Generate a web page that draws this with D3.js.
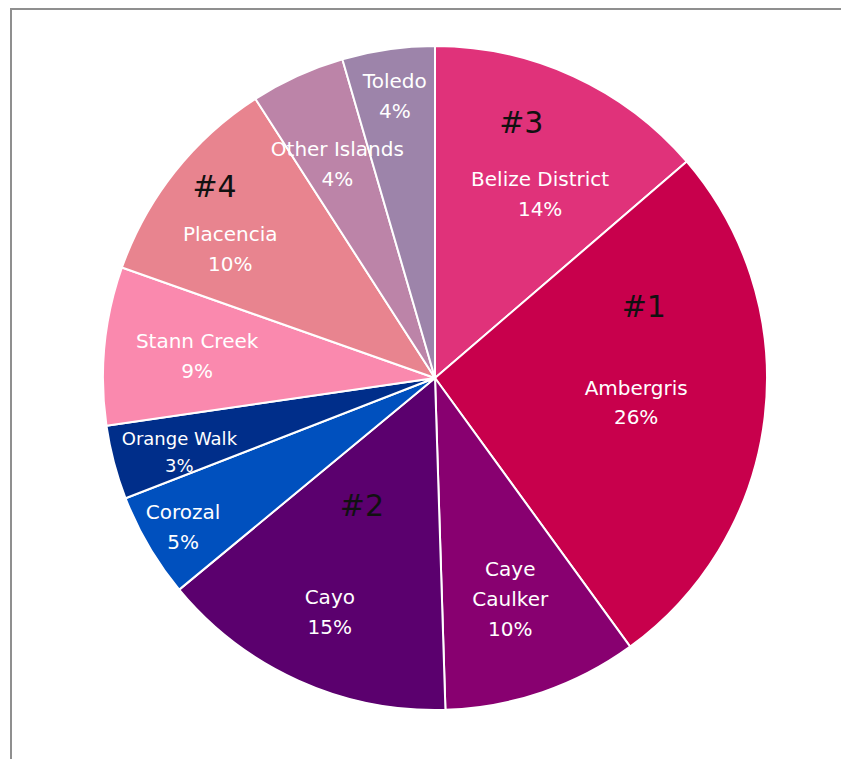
<!DOCTYPE html>
<html>
<head>
<meta charset="utf-8">
<script src="https://cdn.jsdelivr.net/npm/d3@7"></script>
<style>
  html, body { margin: 0; padding: 0; background: #fff; }
  svg { display: block; }
</style>
</head>
<body>
<div id="chart"></div>
<script>
// Data (slice sizes, labels as printed)
const districts = ["Belize District", "Ambergris", "Caye Caulker", "Cayo", "Corozal",
                   "Orange Walk", "Stann Creek", "Placencia", "Other Islands", "Toledo"];
const shares = [13.7, 26.3, 9.5, 14.5, 5.1, 3.6, 7.7, 10.5, 4.6, 4.5];
const pctLabels = ["14%", "26%", "10%", "15%", "5%", "3%", "9%", "10%", "4%", "4%"];
const ranks = ["#3", "#1", null, "#2", null, null, null, "#4", null, null];

// Styles / layout
const colors = ["#E0327A", "#C8004C", "#880070", "#5B006E", "#0050BE",
                "#002E8A", "#FA89AE", "#E8848F", "#BC84A8", "#9D84AA"];
const labelLines = [["Belize District"], ["Ambergris"], ["Caye", "Caulker"], ["Cayo"], ["Corozal"],
                    ["Orange Walk"], ["Stann Creek"], ["Placencia"], ["Other Islands"], ["Toledo"]];
const labelRadius = [0.64, 0.61, 0.70, 0.77, 0.88, 0.80, 0.72, 0.73, 0.71, 0.86];
const labelShift = [5, 0, 0, 0, 0, -1, 0, -6, 0, 0];   // degrees
// rank marks: angle (deg from 12 o'clock) and distance as a fraction of the radius
const rankAngle = {"#1": 71, "#2": 210, "#3": 18.6, "#4": 311};
const rankDist = {"#1": 0.665, "#2": 0.44, "#3": 0.815, "#4": 0.88};

const width = 841, height = 759;
const cx = 435, cy = 378, radius = 332;

const svg = d3.select("#chart")
    .append("svg")
    .attr("width", width)
    .attr("height", height);

// chart frame
svg.append("rect")
    .attr("x", 11)
    .attr("y", 9)
    .attr("width", 900)
    .attr("height", 900)
    .attr("fill", "none")
    .attr("stroke", "#8f8f8f")
    .attr("stroke-width", 2);

const g = svg.append("g")
    .attr("transform", `translate(${cx},${cy})`);

const pie = d3.pie().sort(null).value(d => d.value);
const arcs = pie(districts.map((name, i) => ({ name, value: shares[i], i })));

const arc = d3.arc().innerRadius(0).outerRadius(radius);

g.selectAll("path.slice")
    .data(arcs)
    .join("path")
    .attr("class", "slice")
    .attr("d", arc)
    .attr("fill", d => colors[d.data.i])
    .attr("stroke", "#fff")
    .attr("stroke-width", 2)
    .attr("stroke-linejoin", "round");

const fontFamily = "'DejaVu Sans', sans-serif";
const lineH = 30;

// slice labels
arcs.forEach(d => {
    const i = d.data.i;
    const a = (d.startAngle + d.endAngle) / 2 + labelShift[i] * Math.PI / 180;
    const rr = radius * labelRadius[i];
    const x = rr * Math.sin(a), y = -rr * Math.cos(a);
    const lines = labelLines[i].concat([pctLabels[i]]);
    const fs = i === 5 ? 18 : 20;
    const t = g.append("text")
        .attr("text-anchor", "middle")
        .attr("font-family", fontFamily)
        .attr("font-size", fs)
        .attr("fill", "#fff");
    lines.forEach((ln, k) => {
        t.append("tspan")
            .attr("x", x)
            .attr("y", y + (k - (lines.length - 1) / 2) * (i === 5 ? 27 : lineH) + 8)
            .text(ln);
    });
});

// rank marks
ranks.forEach(r => {
    if (!r) return;
    const a = rankAngle[r] * Math.PI / 180;
    const rr = radius * rankDist[r];
    g.append("text")
        .attr("x", rr * Math.sin(a))
        .attr("y", -rr * Math.cos(a) + 11)
        .attr("text-anchor", "middle")
        .attr("font-family", fontFamily)
        .attr("font-size", 30)
        .attr("fill", "#111")
        .text(r);
});
</script>
</body>
</html>
